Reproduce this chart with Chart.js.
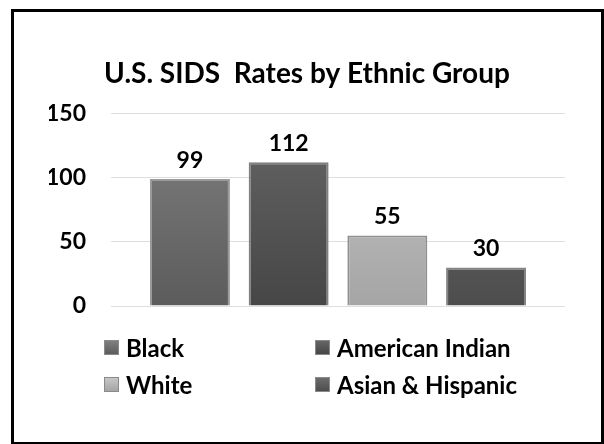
<!DOCTYPE html>
<html>
<head>
<meta charset="utf-8">
<script src="https://cdn.jsdelivr.net/npm/chart.js@4/dist/chart.umd.min.js"></script>
<style>
  html, body { margin: 0; padding: 0; background: #fff; }
  #wrap { position: relative; width: 604px; height: 444px; overflow: hidden; }
  #frame {
    position: absolute; left: 11px; top: 9px; width: 587px; height: 430px;
    border: 3px solid #000; pointer-events: none;
  }
  #legend {
    position: absolute; left: 104px; top: 329px;
    display: grid; grid-template-columns: 211px auto; grid-auto-rows: 37px;
    font: bold 24px Lato, sans-serif; color: #000;
  }
  .item { display: flex; align-items: center; white-space: nowrap; }
  .swatch { width: 13px; height: 13px; margin-right: 7px; border: 1px solid #8a8a8a; }
</style>
</head>
<body>
<div id="wrap">
  <canvas id="chart-sids" width="604" height="444"></canvas>
  <div id="legend"></div>
  <div id="frame"></div>
</div>
<script>
// SIDS rates per 100,000 live births
const groups = ["Black", "American Indian", "White", "Asian & Hispanic"];
const rates = [99, 112, 55, 30];
const yTicks = [0, 50, 100, 150];

// top / bottom shades of each column
const shadeTop = ["#7f7f7f", "#666666", "#c6c6c6", "#6c6c6c"];
const shadeBottom = ["#5c5c5c", "#464646", "#a5a5a5", "#4d4d4d"];
const edge = ["#9a9a9a", "#808080", "#8f8f8f", "#858585"];

const FONT = "Lato, sans-serif";

function columnFill(ctx) {
  const chart = ctx.chart;
  const area = chart.chartArea;
  const i = ctx.dataIndex;
  if (!area || i === undefined) return shadeTop[0];
  const g = chart.ctx.createLinearGradient(0, area.top, 0, area.bottom);
  g.addColorStop(0, shadeTop[i]);
  g.addColorStop(1, shadeBottom[i]);
  return g;
}

// value printed above each column
const valueLabels = {
  id: "valueLabels",
  afterDatasetsDraw(chart) {
    const c = chart.ctx;
    const meta = chart.getDatasetMeta(0);
    c.save();
    c.font = "bold 23px " + FONT;
    c.fillStyle = "#000";
    c.textAlign = "center";
    c.textBaseline = "bottom";
    meta.data.forEach((bar, i) => {
      c.fillText(String(rates[i]), bar.x, bar.y - 7);
    });
    c.restore();
  }
};

const chart = new Chart(document.getElementById("chart-sids"), {
  type: "bar",
  data: {
    datasets: [{
      label: "SIDS rate",
      data: rates.map((v, i) => ({ x: i, y: v })),
      backgroundColor: columnFill,
      borderColor: edge,
      borderWidth: { left: 2, right: 2, top: 2, bottom: 0 },
      barPercentage: 0.9,
      categoryPercentage: 0.9
    }]
  },
  options: {
    responsive: false,
    animation: false,
    layout: { padding: { top: 57, left: 49, right: 39, bottom: 138 } },
    plugins: {
      legend: { display: false },
      tooltip: { enabled: false },
      title: {
        display: true,
        text: "U.S. SIDS  Rates by Ethnic Group",
        color: "#000",
        font: { family: FONT, size: 28, weight: "bold" },
        padding: { top: 0, bottom: 23 }
      }
    },
    scales: {
      x: {
        type: "linear",
        min: -0.8,
        max: 3.8,
        offset: false,
        // one tick per group so the column width follows the group spacing
        afterBuildTicks(scale) {
          scale.ticks = groups.map((g, i) => ({ value: i }));
        },
        display: false
      },
      y: {
        min: 0,
        max: 150,
        afterBuildTicks(scale) {
          scale.ticks = yTicks.map(v => ({ value: v }));
        },
        afterFit(scale) { scale.width = 62; },
        border: { display: false },
        grid: { color: "#dedede", lineWidth: 1, drawTicks: false },
        ticks: {
          padding: 25,
          color: "#000",
          font: { family: FONT, size: 23, weight: "bold" }
        }
      }
    }
  },
  plugins: [valueLabels]
});

// two-column legend keyed to the column shades
const legend = document.getElementById("legend");
groups.forEach((name, i) => {
  const item = document.createElement("div");
  item.className = "item";
  const sw = document.createElement("span");
  sw.className = "swatch";
  sw.style.background = `linear-gradient(${shadeTop[i]}, ${shadeBottom[i]})`;
  const txt = document.createElement("span");
  txt.textContent = name;
  item.appendChild(sw);
  item.appendChild(txt);
  legend.appendChild(item);
});
</script>
</body>
</html>
